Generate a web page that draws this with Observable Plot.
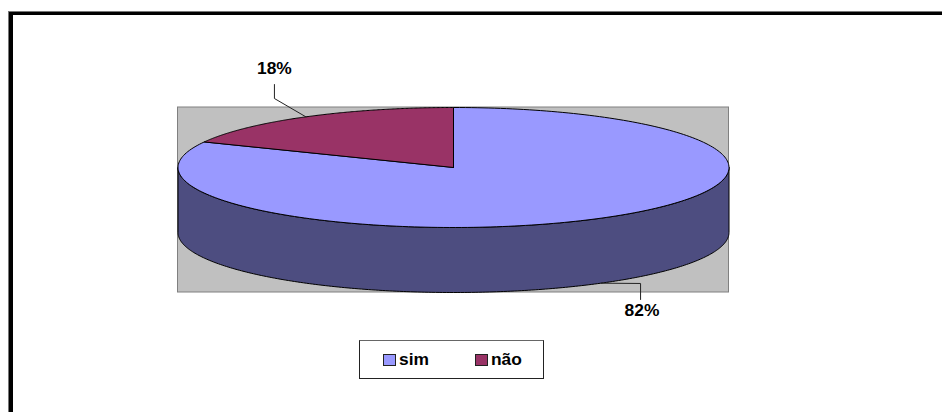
<!DOCTYPE html>
<html>
<head>
<meta charset="utf-8">
<script src="https://cdn.jsdelivr.net/npm/d3@7"></script>
<script src="https://cdn.jsdelivr.net/npm/@observablehq/plot@0.6"></script>
<style>
  html, body { margin: 0; padding: 0; background: #fff; }
  #page { position: relative; width: 942px; height: 412px; overflow: hidden; font-family: "Liberation Sans", Arial, sans-serif; font-weight: bold; color: #000; }
  #frame { position: absolute; left: 9px; top: 12px; width: 960px; height: 420px; border-left: 4px solid #000; border-top: 3px solid #000; box-sizing: border-box; box-shadow: -1px -1px 0 #777; }
  #legend { position: absolute; left: 359px; top: 340px; width: 185px; height: 39px; box-sizing: border-box; border: 1.2px solid #222; border-top-color: #666; font-size: 17.4px; background: #fff; }
  #legend span.sw { position: absolute; top: 13px; width: 11px; height: 10px; border: 1px solid #222; }
  #legend span.tx { position: absolute; top: 2.5px; line-height: 30px; }
  svg { position: absolute; left: 0; top: 0; display: block; }
</style>
</head>
<body>
<div id="page"></div>
<script>
const categories = ["sim", "não"];
const shares = [82, 18];
const colors = ["#9999ff", "#993366"];
const sideColor = "#4d4d80";
const depth = 65 / 60;           // wall height, in units of the ellipse's vertical radius
const leaderElbows = [[0.679, -1.933], [-0.650, 1.150]];
const leaderEnds = [[0.679, -2.2], [-0.650, 1.383]];
const labelOffsets = [[0.684, -2.39], [-0.650, 1.655]];

const total = d3.sum(shares);
const point = (t, drop = 0) => ({x: Math.sin(2 * Math.PI * t), y: Math.cos(2 * Math.PI * t) - drop});
const arc = (t0, t1, drop = 0) => d3.range(0, 241).map(i => point(t0 + (t1 - t0) * i / 240, drop));

let start = 0;
const slices = categories.map((name, i) => {
  const t0 = start / total;
  start += shares[i];
  const t1 = start / total;
  return {name, share: shares[i], t0, t1, tm: (t0 + t1) / 2};
});

const wall = [...arc(0.25, 0.75), ...arc(0.75, 0.25, depth)];
wall.push(wall[0]);

const lineMarks = slices.map((s, i) => {
  const anchor = point(s.tm, s.tm > 0.25 && s.tm < 0.75 ? depth : 0);
  const pts = [anchor, {x: leaderElbows[i][0], y: leaderElbows[i][1]}, {x: leaderEnds[i][0], y: leaderEnds[i][1]}];
  return Plot.line(pts, {x: "x", y: "y", stroke: "#222", strokeWidth: 1, curve: "linear"});
});

const chart = Plot.plot({
  width: 942,
  height: 412,
  marginTop: 0, marginRight: 0, marginBottom: 0, marginLeft: 0,
  style: {background: "transparent", overflow: "visible"},
  x: {type: "linear", domain: [-1, 1], range: [177.5, 728.5], axis: null},
  y: {type: "linear", domain: [1, -1], range: [107, 227], axis: null},
  marks: [
    Plot.rect([{x1: -1, x2: 1, y1: 1, y2: -1 - depth}], {x1: "x1", x2: "x2", y1: "y1", y2: "y2", fill: "#c0c0c0", stroke: "#808080", strokeWidth: 1}),
    Plot.line(wall, {x: "x", y: "y", fill: sideColor, stroke: "#000", strokeWidth: 1, curve: "linear"}),
    ...slices.map((s, i) => {
      const pts = [{x: 0, y: 0}, ...arc(s.t0, s.t1), {x: 0, y: 0}];
      return Plot.line(pts, {x: "x", y: "y", fill: colors[i], stroke: "#000", strokeWidth: 1, curve: "linear"});
    }),
    ...lineMarks,
    Plot.text(slices, {
      x: (d, i) => labelOffsets[i][0],
      y: (d, i) => labelOffsets[i][1],
      text: d => `${d.share}%`,
      fontSize: 17.4,
      fontWeight: "bold",
      fontFamily: "Liberation Sans, Arial, sans-serif",
      fill: "#000"
    })
  ]
});

const page = document.getElementById("page");
const frame = document.createElement("div");
frame.id = "frame";
page.appendChild(frame);
page.appendChild(chart);

const legend = document.createElement("div");
legend.id = "legend";
const swatchLeft = [23, 115];
categories.forEach((name, i) => {
  const sw = document.createElement("span");
  sw.className = "sw";
  sw.style.left = swatchLeft[i] + "px";
  sw.style.background = colors[i];
  const tx = document.createElement("span");
  tx.className = "tx";
  tx.style.left = (swatchLeft[i] + 16) + "px";
  tx.textContent = name;
  legend.appendChild(sw);
  legend.appendChild(tx);
});
page.appendChild(legend);
</script>
</body>
</html>
